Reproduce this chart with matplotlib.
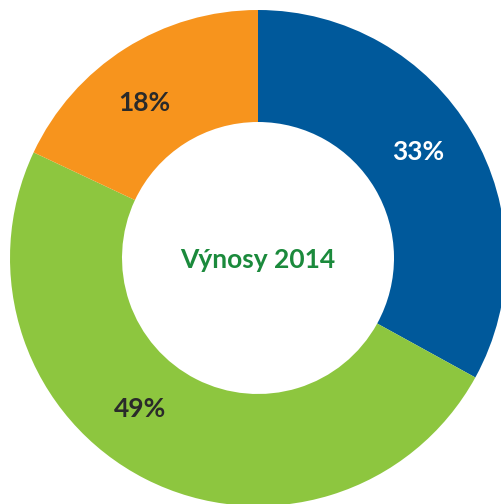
import numpy as np
import matplotlib
matplotlib.use("Agg")
import matplotlib.pyplot as plt

# slice data, clockwise from 12 o'clock
shares = [33, 49, 18]
labels = ["33%", "49%", "18%"]
colors = ["#00599B", "#8DC63F", "#F7941D"]
label_colors = ["#FFFFFF", "#2A2A2A", "#2A2A2A"]
label_angle_shift = [3, -11, 4]  # degrees, fine-tune against wedge midpoint
title = "Výnosy 2014"

W, H = 501, 504
cx, cy, R = 258, 258, 248  # centre and outer radius in pixels

fig = plt.figure(figsize=(W / 100, H / 100), dpi=100)
ax = fig.add_axes([0, 0, 1, 1])

wedges, _ = ax.pie(
    shares,
    colors=colors,
    startangle=90,
    counterclock=False,
    radius=1.0,
    wedgeprops=dict(width=1 - 136 / 248, linewidth=0),
)

font = ["Lato", "DejaVu Sans"]
for wedge, text, col, shift in zip(wedges, labels, label_colors, label_angle_shift):
    mid = np.deg2rad((wedge.theta1 + wedge.theta2) / 2 + shift)
    r = 0.775
    ax.text(r * np.cos(mid), r * np.sin(mid), text, ha="center", va="center",
            fontsize=19, fontweight="bold", color=col, family=font)

ax.text(0, -0.01, title, ha="center", va="center", fontsize=19,
        fontweight="bold", color="#1B8A3C", family=font)

ax.set_xlim(-cx / R, (W - cx) / R)
ax.set_ylim(-(H - cy) / R, cy / R)
ax.set_aspect("auto")
ax.axis("off")

fig.savefig("out.png", dpi=100)
